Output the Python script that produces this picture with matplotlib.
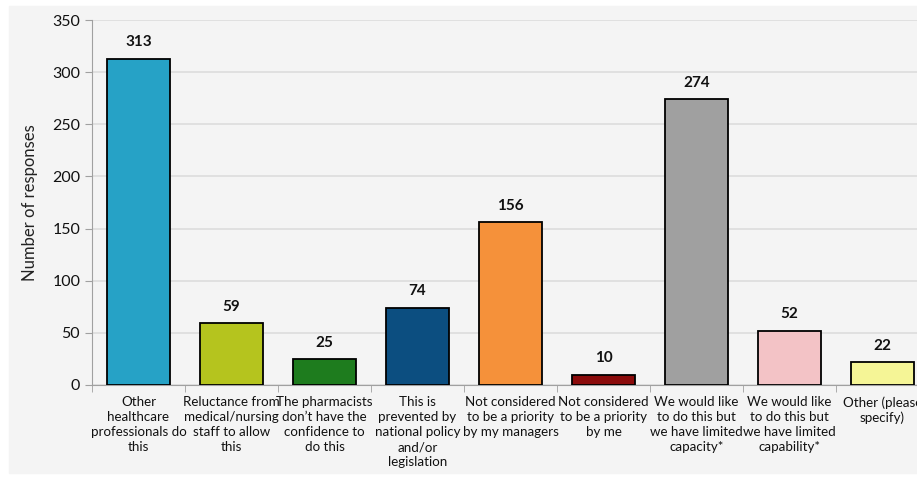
import matplotlib
matplotlib.use('Agg')
import matplotlib.pyplot as plt

categories = [
    'Other\nhealthcare\nprofessionals do\nthis',
    'Reluctance from\nmedical/nursing\nstaff to allow\nthis',
    'The pharmacists\ndon\u2019t have the\nconfidence to\ndo this',
    'This is\nprevented by\nnational policy\nand/or\nlegislation',
    'Not considered\nto be a priority\nby my managers',
    'Not considered\nto be a priority\nby me',
    'We would like\nto do this but\nwe have limited\ncapacity*',
    'We would like\nto do this but\nwe have limited\ncapability*',
    'Other (please\nspecify)',
]
responses = [313, 59, 25, 74, 156, 10, 274, 52, 22]
bar_colors = ['#26a2c6', '#b5c41e', '#1e7c1e', '#0c4e80', '#f5913a',
              '#8b0b0b', '#a0a0a0', '#f3c3c6', '#f5f596']

plt.rcParams['font.family'] = ['Lato', 'DejaVu Sans']

fig = plt.figure(figsize=(9.17, 4.79), dpi=100, facecolor='white')
# grey panel, with a thin white margin on the left, top and bottom
fig.patches.append(plt.Rectangle((9 / 917, 6 / 479), 1, 1 - 12 / 479,
                                 transform=fig.transFigure, color='#f4f4f4',
                                 zorder=-1))

# axes run past the right edge, the last category is cut off
ax = fig.add_axes([92 / 917, 1 - 385 / 479, 837 / 917, 365 / 479])
ax.set_facecolor('#f4f4f4')

x = list(range(len(responses)))
bars = ax.bar(x, responses, width=0.68, color=bar_colors,
              edgecolor='black', linewidth=1.3, zorder=3)
for b, v in zip(bars, responses):
    ax.text(b.get_x() + b.get_width() / 2, v + 9, str(v),
            ha='center', va='bottom', fontsize=11, fontweight='bold',
            color='#111111')

ax.set_xlim(-0.5, len(responses) - 0.5)
ax.set_ylim(0, 350)
ax.set_yticks(range(0, 351, 50))
ax.yaxis.grid(True, color='#dcdcdc', linewidth=1.2, zorder=0)
ax.set_axisbelow(True)

ax.set_xticks(x)
ax.set_xticklabels(categories, fontsize=9.6, linespacing=1.3, color='#111111')
ax.tick_params(axis='x', length=0, pad=8)
ax.set_xticks([i + 0.5 for i in range(-1, len(responses))], minor=True)
ax.tick_params(axis='x', which='minor', length=5, color='#a0a0a0')
ax.tick_params(axis='y', length=5, color='#a0a0a0', labelsize=11.5,
               labelcolor='#111111')

for s in ['top', 'right']:
    ax.spines[s].set_visible(False)
for s in ['left', 'bottom']:
    ax.spines[s].set_color('#a0a0a0')

ax.set_ylabel('Number of responses', fontsize=12, color='#222222', labelpad=10)

fig.savefig('out.png', dpi=100, facecolor=fig.get_facecolor())
